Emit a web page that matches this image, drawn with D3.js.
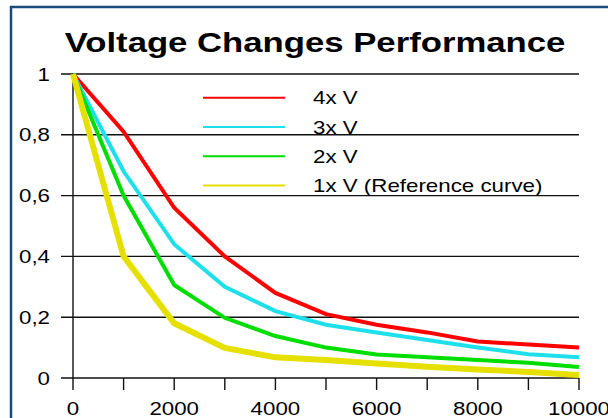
<!DOCTYPE html>
<html>
<head>
<meta charset="utf-8">
<script src="https://cdn.jsdelivr.net/npm/d3@7"></script>
<style>
  body { margin: 0; background: #fff; }
  text { font-family: "Liberation Sans", Arial, sans-serif; fill: #000; }
</style>
</head>
<body>
<div id="chart"></div>
<script>
const xValues = [0, 1000, 2000, 3000, 4000, 5000, 6000, 7000, 8000, 9000, 10000];
const seriesNames = ["4x V", "3x V", "2x V", "1x V (Reference curve)"];
const v4 = [1, 0.81, 0.56, 0.40, 0.28, 0.21, 0.175, 0.15, 0.12, 0.11, 0.10];
const v3 = [1, 0.68, 0.44, 0.30, 0.22, 0.175, 0.15, 0.125, 0.10, 0.078, 0.068];
const v2 = [1, 0.60, 0.306, 0.198, 0.138, 0.10, 0.077, 0.068, 0.059, 0.05, 0.036];
const v1 = [1, 0.40, 0.18, 0.099, 0.068, 0.059, 0.048, 0.037, 0.028, 0.02, 0.01];
const seriesColors = ["#ff0000", "#1ee0ea", "#00dd00", "#e6e000"];
const seriesWidths = [4, 4, 4, 6];
const yTicks = [0, 0.2, 0.4, 0.6, 0.8, 1];
const xLabelTicks = [0, 2000, 4000, 6000, 8000, 10000];
const xMinorTicks = d3.range(0, 10001, 1000);

const width = 608, height = 418;
const stretch = 1.24; // text in the picture is a bit wide

const svg = d3.select("#chart").append("svg")
  .attr("width", width)
  .attr("height", height);

// outer frame
svg.append("rect")
  .attr("x", 11).attr("y", 7)
  .attr("width", 640).attr("height", 440)
  .attr("fill", "#fff")
  .attr("stroke", "#1b4a7c")
  .attr("stroke-width", 2.5);

const x = d3.scaleLinear().domain([0, 10000]).range([73, 579]);
const y = d3.scaleLinear().domain([0, 1]).range([378, 74]);

function label(g, tx, ty, str, size, anchor, weight) {
  g.append("g")
    .attr("transform", "translate(" + tx + "," + ty + ") scale(" + stretch + ",1)")
    .append("text")
    .attr("text-anchor", anchor)
    .attr("font-size", size)
    .attr("font-weight", weight || "normal")
    .text(str);
}

// title
label(svg, 315, 52, "Voltage Changes Performance", 28, "middle", "bold");

// gridlines (they also serve as y ticks)
svg.append("g")
  .selectAll("line")
  .data(yTicks)
  .join("line")
    .attr("x1", 61)
    .attr("x2", x(10000))
    .attr("y1", d => y(d))
    .attr("y2", d => y(d))
    .attr("stroke", "#111")
    .attr("stroke-width", 1.4);

const yLabels = svg.append("g");
yTicks.forEach(t => {
  label(yLabels, 50, y(t) + 6.5, d3.format(",")(t).replace(".", ","), 18, "end");
});

// y axis line
svg.append("line")
  .attr("x1", x(0)).attr("x2", x(0))
  .attr("y1", y(1)).attr("y2", y(0))
  .attr("stroke", "#111")
  .attr("stroke-width", 1.4);

// x ticks
svg.append("g")
  .selectAll("line")
  .data(xMinorTicks)
  .join("line")
    .attr("x1", d => x(d)).attr("x2", d => x(d))
    .attr("y1", y(0)).attr("y2", y(0) + 12)
    .attr("stroke", "#111")
    .attr("stroke-width", 1.4);

const xLabels = svg.append("g");
xLabelTicks.forEach(t => {
  label(xLabels, x(t), 415, String(t), 18, "middle");
});

// series lines
const allSeries = [v4, v3, v2, v1];
const line = d3.line()
  .x((d, i) => x(xValues[i]))
  .y(d => y(d));

svg.append("g")
  .selectAll("path")
  .data(allSeries)
  .join("path")
    .attr("d", d => line(d))
    .attr("fill", "none")
    .attr("stroke", (d, i) => seriesColors[i])
    .attr("stroke-width", (d, i) => seriesWidths[i])
    .attr("stroke-linejoin", "miter");

// legend
const legend = svg.append("g");
seriesNames.forEach((name, i) => {
  const ly = 97.7 + i * 29.3;
  legend.append("line")
    .attr("x1", 203).attr("x2", 285)
    .attr("y1", ly).attr("y2", ly)
    .attr("stroke", seriesColors[i])
    .attr("stroke-width", 2);
  label(legend, 313, ly + 6.5, name, 18, "start");
});
</script>
</body>
</html>
